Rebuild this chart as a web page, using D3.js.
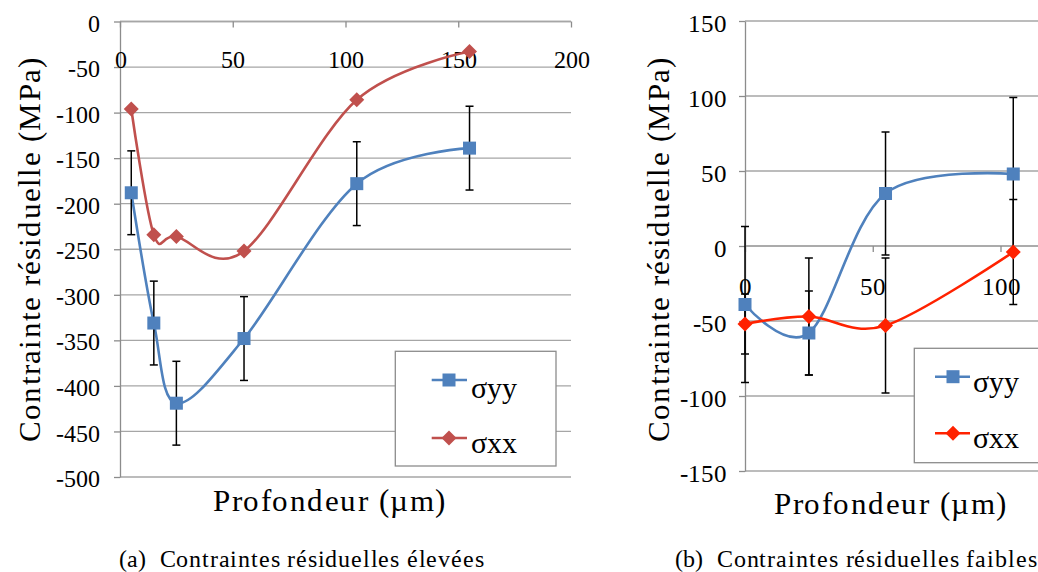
<!DOCTYPE html>
<html><head><meta charset="utf-8">
<script src="https://cdn.jsdelivr.net/npm/d3@7"></script>
<style>
@font-face{font-family:"ChartSerif";src:local("Liberation Serif"),local("LiberationSerif"),local("LiberationSerif-Regular"),local("Tinos"),local("Tinos-Regular"),local("DejaVu Serif"),local("DejaVuSerif"),local("Noto Serif"),local("NotoSerif-Regular");}
body{margin:0;background:#fff}
svg{display:block}
svg text{font-family:"ChartSerif","Liberation Serif","DejaVu Serif",serif;fill:#000}
</style>
</head><body>
<svg id="c" width="1038" height="572"></svg>
<script>
// ---------- data ----------
const seriesNames = ["σyy", "σxx"];
const yTitle = "Contrainte résiduelle (MPa)";
const xTitle = "Profondeur (µm)";

// (a) high residual stresses
const depthA = [5, 15, 25, 55, 105, 155];
const syyA = [-188, -331, -419, -348, -178, -139];
const syyErrA = [46, 46, 46, 46, 46, 46];
const sxxA = [-96, -234, -236, -252, -86, -33];
const xTicksA = [0, 50, 100, 150, 200];
const yTicksA = [0, -50, -100, -150, -200, -250, -300, -350, -400, -450, -500];
const captionTagA = "(a)";
const captionA = "Contraintes résiduelles élevées";

// (b) low residual stresses
const depthB = [0, 25, 55, 105];
const syyB = [-39, -58, 35, 48];
const syyErrB = [52, 28, 41, 51];
const sxxB = [-52, -47, -53, -4];
const sxxErrB = [20, 39, 45, 35];
const xTicksB = [0, 50, 100];
const yTicksB = [150, 100, 50, 0, -50, -100, -150];
const captionTagB = "(b)";
const captionB = "Contraintes résiduelles faibles";

// ---------- drawing ----------
const FONT = '"ChartSerif","Liberation Serif","DejaVu Serif",serif';
const svg = d3.select("#c");
svg.append("rect").attr("width", 1038).attr("height", 572).attr("fill", "#fff");

const GRID = "#A6A6A6", AXIS = "#8C8C8C";

function panel(cfg) {
  const g = svg.append("g").attr("font-family", FONT);
  const x = d3.scaleLinear().domain(cfg.xDomain).range(cfg.xRange);
  const y = d3.scaleLinear().domain(cfg.yDomain).range(cfg.yRange);
  const x0 = x(0), gridRight = cfg.gridRight;

  g.append("g").selectAll("line").data(cfg.yTicks).join("line")
    .attr("x1", x0).attr("x2", gridRight)
    .attr("y1", d => y(d)).attr("y2", d => y(d))
    .attr("stroke", GRID).attr("stroke-width", 1.3);

  const ya = g.append("g").attr("transform", `translate(${x0},0)`)
    .call(d3.axisLeft(y).tickValues(cfg.yTicks).tickSize(6).tickSizeOuter(0)
      .tickPadding(cfg.yPad).tickFormat(d3.format("d")));
  ya.attr("font-family", FONT);
  ya.select(".domain").attr("stroke", AXIS).attr("stroke-width", 1.3);
  ya.selectAll(".tick line").attr("stroke", AXIS).attr("stroke-width", 1.3);
  ya.selectAll(".tick text").attr("font-size", cfg.tickFont).attr("dy", "0.4em")
    .text(d => d < 0 ? "-" + Math.abs(d) : d);

  const xa = g.append("g").attr("transform", `translate(0,${y(0)})`)
    .call(d3.axisBottom(x).tickValues(cfg.xTicks).tickSize(6).tickSizeOuter(0));
  xa.attr("font-family", FONT);
  xa.select(".domain").attr("stroke", GRID).attr("stroke-width", 1.3)
    .attr("d", `M${x0},0H${gridRight}`);
  xa.selectAll(".tick line").attr("stroke", AXIS).attr("stroke-width", 1.3);
  xa.selectAll(".tick text").attr("font-size", cfg.tickFont)
    .attr("y", cfg.xLabOff).attr("dy", "0.35em");

  const line = d3.line().curve(d3.curveCardinal.tension(0))
    .x(d => x(d[0])).y(d => y(d[1]));
  cfg.series.forEach(s => {
    g.append("path").datum(cfg.depth.map((d, i) => [d, s.values[i]]))
      .attr("d", line).attr("fill", "none")
      .attr("stroke", s.color).attr("stroke-width", 2.6);
  });

  cfg.series.forEach(s => {
    if (!s.err) return;
    const eb = g.append("g").attr("stroke", "#000").attr("stroke-width", 1.5);
    cfg.depth.forEach((d, i) => {
      const cx = x(d), yt = y(s.values[i] + s.err[i]), yb = y(s.values[i] - s.err[i]);
      eb.append("line").attr("x1", cx).attr("x2", cx).attr("y1", yt).attr("y2", yb);
      eb.append("line").attr("x1", cx - 4).attr("x2", cx + 4).attr("y1", yt).attr("y2", yt);
      eb.append("line").attr("x1", cx - 4).attr("x2", cx + 4).attr("y1", yb).attr("y2", yb);
    });
  });

  function marker(sel, type, cx, cy, color) {
    if (type === "square") {
      sel.append("rect").attr("x", cx - 6.5).attr("y", cy - 6.5)
        .attr("width", 13).attr("height", 13).attr("fill", color);
    } else {
      const r = 7.5;
      sel.append("path").attr("d", `M${cx},${cy - r}L${cx + r},${cy}L${cx},${cy + r}L${cx - r},${cy}Z`)
        .attr("fill", color);
    }
  }
  cfg.series.forEach(s => {
    const mg = g.append("g");
    cfg.depth.forEach((d, i) => marker(mg, s.marker, x(d), y(s.values[i]), s.color));
  });

  const L = cfg.legend;
  g.append("rect").attr("x", L.x).attr("y", L.y).attr("width", L.w).attr("height", L.h)
    .attr("fill", "#fff").attr("stroke", AXIS).attr("stroke-width", 1.3);
  cfg.series.forEach((s, i) => {
    g.append("line").attr("x1", L.lx1).attr("x2", L.lx2)
      .attr("y1", L.my[i]).attr("y2", L.my[i])
      .attr("stroke", s.color).attr("stroke-width", 2.6);
    marker(g, s.marker, L.mx, L.my[i], s.color);
    g.append("text").attr("x", L.tx).attr("y", L.ty[i])
      .attr("font-size", 30).text(s.name);
  });

  g.append("text").attr("transform", `translate(${cfg.yTitleX},${cfg.yTitleY}) rotate(-90)`)
    .attr("text-anchor", "middle").attr("dominant-baseline", "central")
    .attr("font-size", 31).attr("textLength", 384).attr("lengthAdjust", "spacing")
    .text(yTitle);
  g.append("text").attr("x", cfg.xTitleX).attr("y", cfg.xTitleY)
    .attr("text-anchor", "middle").attr("font-size", 31)
    .attr("textLength", 232).attr("lengthAdjust", "spacing")
    .text(xTitle);

  g.append("text").attr("x", cfg.capX).attr("y", 567).attr("font-size", 24).text(cfg.capTag);
  g.append("text").attr("x", cfg.capX2).attr("y", 567).attr("font-size", 24)
    .attr("textLength", cfg.capLen).attr("lengthAdjust", "spacing").text(cfg.caption);
}

panel({
  xDomain: [0, 200], xRange: [120, 571], gridRight: 571,
  yDomain: [-500, 0], yRange: [477, 21.5],
  xTicks: xTicksA, yTicks: yTicksA, yPad: 14, tickFont: 24, xLabOff: 38.5,
  depth: depthA,
  series: [
    { name: seriesNames[0], values: syyA, err: syyErrA, color: "#4F81BD", marker: "square" },
    { name: seriesNames[1], values: sxxA, err: null, color: "#C0504D", marker: "diamond" }
  ],
  legend: { x: 395.3, y: 351.3, w: 160.7, h: 114.7, lx1: 431.7, lx2: 467, mx: 449, tx: 470.7,
            my: [380, 438], ty: [398.3, 452.7] },
  yTitleX: 29, yTitleY: 250, xTitleX: 329, xTitleY: 511,
  capTag: captionTagA, caption: captionA, capX: 119, capX2: 159.5, capLen: 324
});

panel({
  xDomain: [0, 115], xRange: [745, 745 + 115 * 2.555], gridRight: 1038,
  yDomain: [-150, 150], yRange: [471, 21],
  xTicks: xTicksB, yTicks: yTicksB, yPad: 12, tickFont: 25, xLabOff: 40,
  depth: depthB,
  series: [
    { name: seriesNames[0], values: syyB, err: syyErrB, color: "#4F81BD", marker: "square" },
    { name: seriesNames[1], values: sxxB, err: sxxErrB, color: "#FF2200", marker: "diamond" }
  ],
  legend: { x: 914.3, y: 348.3, w: 140, h: 114.4, lx1: 935, lx2: 970, mx: 953, tx: 972.7,
            my: [376.7, 433.3], ty: [391.7, 448.3] },
  yTitleX: 658, yTitleY: 250, xTitleX: 890, xTitleY: 514,
  capTag: captionTagB, caption: captionB, capX: 675, capX2: 716.7, capLen: 320
});
</script>
</body></html>
